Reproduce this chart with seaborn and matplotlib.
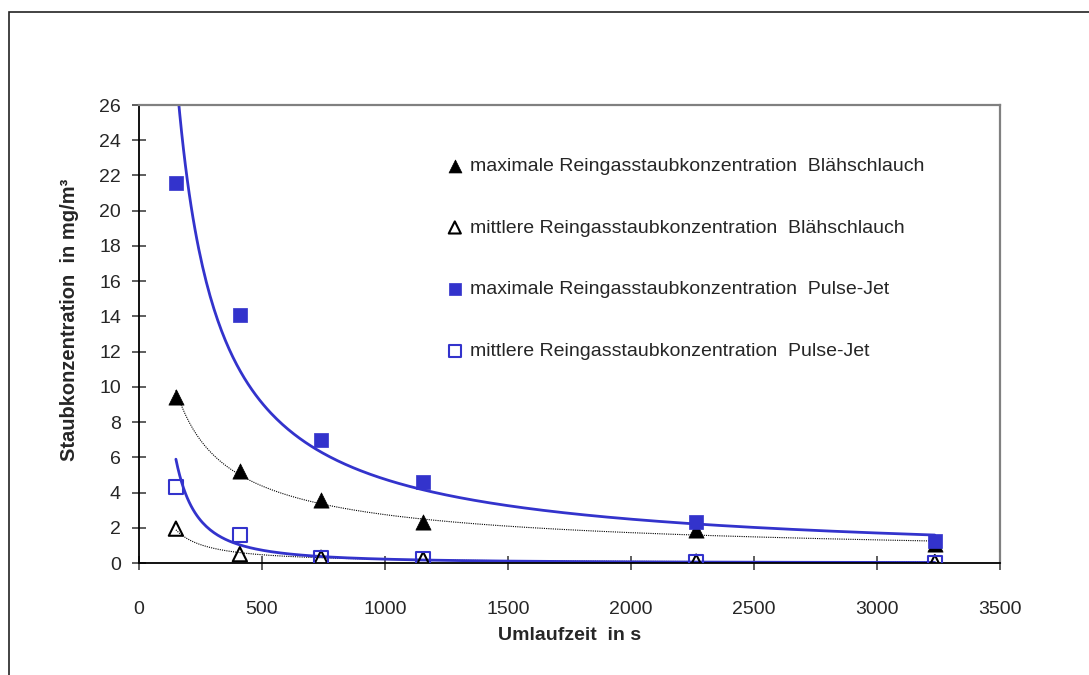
import numpy as np
import matplotlib
matplotlib.use("Agg")
import matplotlib.pyplot as plt
import seaborn as sns
from matplotlib.patches import Rectangle

umlaufzeit = [150, 410, 740, 1155, 2265, 3235]
max_blaeh = [9.4, 5.2, 3.55, 2.3, 1.85, 1.1]
mittel_blaeh = [1.95, 0.5, 0.3, 0.22, 0.08, 0.05]
max_pulse = [21.55, 14.1, 7.0, 4.6, 2.3, 1.25]
mittel_pulse = [4.3, 1.6, 0.3, 0.23, 0.06, 0.02]

labels = [
    "maximale Reingasstaubkonzentration  Blähschlauch",
    "mittlere Reingasstaubkonzentration  Blähschlauch",
    "maximale Reingasstaubkonzentration  Pulse-Jet",
    "mittlere Reingasstaubkonzentration  Pulse-Jet",
]
x_ticks = list(range(0, 3501, 500))
y_ticks = list(range(0, 27, 2))

BLUE = "#3333CC"


def power_fit(x, y):
    # Potenz-Trendlinie wie in Excel: y = a * x^b
    b, ln_a = np.polyfit(np.log(x), np.log(y), 1)
    xf = np.linspace(min(x), max(x), 400)
    return xf, np.exp(ln_a) * xf ** b


def main():
    sns.set_style("white")
    plt.rcParams["font.family"] = ["Liberation Sans", "DejaVu Sans"]

    fig = plt.figure(figsize=(10.89, 6.75), dpi=100)
    ax = fig.add_axes([139 / 1089, 1 - 563 / 675, 861 / 1089, 458 / 675])

    # Trendlinien
    xf, yf = power_fit(umlaufzeit, max_blaeh)
    sns.lineplot(x=xf, y=yf, ax=ax, color="black", lw=0.8, ls=(0, (1, 1)), zorder=2)
    xf, yf = power_fit(umlaufzeit, mittel_blaeh)
    sns.lineplot(x=xf, y=yf, ax=ax, color="black", lw=0.8, ls=(0, (1, 1)), zorder=2)
    xf, yf = power_fit(umlaufzeit, max_pulse)
    sns.lineplot(x=xf, y=yf, ax=ax, color=BLUE, lw=2.0, zorder=2)
    xf, yf = power_fit(umlaufzeit, mittel_pulse)
    sns.lineplot(x=xf, y=yf, ax=ax, color=BLUE, lw=2.0, zorder=2)

    # Messpunkte
    sns.scatterplot(x=umlaufzeit, y=max_blaeh, ax=ax, marker="^", s=120,
                    color="black", edgecolor="black", linewidth=0.5,
                    label=labels[0], zorder=3)
    sns.scatterplot(x=umlaufzeit, y=mittel_blaeh, ax=ax, marker="^", s=105,
                    facecolor="none", edgecolor="black", linewidth=1.5,
                    label=labels[1], zorder=3)
    sns.scatterplot(x=umlaufzeit, y=max_pulse, ax=ax, marker="s", s=115,
                    color=BLUE, edgecolor=BLUE, linewidth=0.5,
                    label=labels[2], zorder=3)
    sns.scatterplot(x=umlaufzeit, y=mittel_pulse, ax=ax, marker="s", s=100,
                    facecolor="none", edgecolor=BLUE, linewidth=1.5,
                    label=labels[3], zorder=3)

    ax.set_xlim(0, 3500)
    ax.set_ylim(0, 26)
    ax.set_xticks(x_ticks)
    ax.set_yticks(y_ticks)
    ax.tick_params(axis="both", direction="inout", length=10, width=1.1,
                   labelsize=14, color="#333333", bottom=True, left=True)
    ax.tick_params(axis="y", pad=8)
    ax.tick_params(axis="x", pad=22)

    for side in ["left", "bottom"]:
        ax.spines[side].set_color("black")
        ax.spines[side].set_linewidth(1.3)
    for side in ["top", "right"]:
        ax.spines[side].set_color("#808080")
        ax.spines[side].set_linewidth(1.6)

    ax.set_xlabel("Umlaufzeit  in s", fontsize=14, fontweight="bold")
    ax.set_ylabel("Staubkonzentration  in mg/m³", fontsize=14.5, fontweight="bold")
    ax.xaxis.set_label_coords(0.5, -0.14)
    ax.yaxis.set_label_coords(-0.07, 0.53)

    ax.legend(loc="upper left", bbox_to_anchor=(448 / 1089, 1 - 157 / 675),
              bbox_transform=fig.transFigure, frameon=False, fontsize=14,
              handlelength=0.7, handletextpad=0.45, labelspacing=2.28,
              borderpad=0, borderaxespad=0, markerscale=0.85)

    # Rahmen des Diagrammbereichs
    fig.patches.append(Rectangle((9 / 1089, -0.5), 2, 0.5 + 1 - 12 / 675,
                                 transform=fig.transFigure, fill=False,
                                 lw=1.2, ec="#222222"))

    fig.savefig("out.png", dpi=100)
    plt.close(fig)


if __name__ == "__main__":
    main()
